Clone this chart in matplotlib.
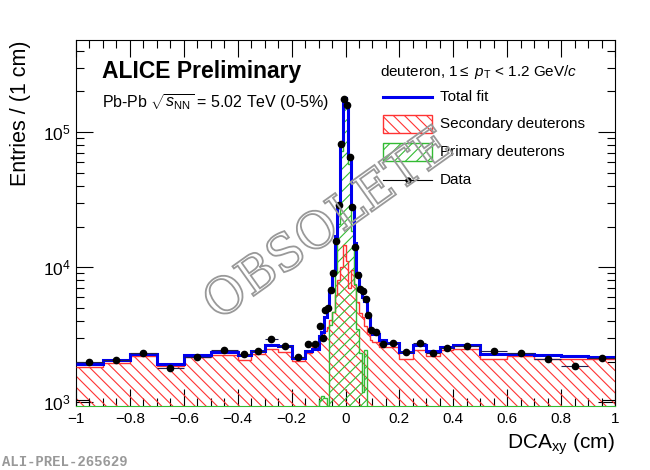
import numpy as np
import matplotlib
matplotlib.use('Agg')
import matplotlib.pyplot as plt
from matplotlib.patches import Rectangle, PathPatch
from matplotlib.lines import Line2D
from matplotlib.textpath import TextPath
from matplotlib.font_manager import FontProperties
from matplotlib.transforms import Affine2D, IdentityTransform
from matplotlib.ticker import MultipleLocator, FuncFormatter, LogLocator

plt.rcParams['font.family'] = ['Liberation Sans', 'DejaVu Sans']
plt.rcParams['mathtext.fontset'] = 'custom'
plt.rcParams['mathtext.rm'] = 'Liberation Sans'
plt.rcParams['mathtext.it'] = 'Liberation Sans:italic'
plt.rcParams['mathtext.bf'] = 'Liberation Sans:bold'
plt.rcParams['hatch.linewidth'] = 0.8

# DCA_xy bin edges (cm), variable binning
edges = [-1.0, -0.9, -0.8, -0.7, -0.6, -0.5, -0.4, -0.35, -0.3, -0.25, -0.2, -0.15,
         -0.125, -0.1, -0.09, -0.08, -0.07, -0.06, -0.05, -0.04, -0.03, -0.02, -0.01,
         0.0, 0.01, 0.02, 0.03, 0.04, 0.05, 0.06, 0.07, 0.08, 0.09, 0.1, 0.125, 0.15,
         0.2, 0.25, 0.3, 0.35, 0.4, 0.5, 0.6, 0.7, 0.8, 0.9, 1.0]

data_counts = [1980, 2070, 2330, 1800, 2170, 2430, 2270, 2390, 2930, 2630, 2155,
               2720, 2720, 3660, 2990, 4800, 5000, 6750, 9130, 15700, 28800, 81000, 175000,
               159000, 65000, 27800, 14000, 8700, 6900, 6640, 5790, 4460, 3410,
               3320, 2720, 2750, 2360, 2770, 2330, 2540, 2610, 2400, 2300, 2110, 1860, 2130]
data_err = [90, 90, 100, 90, 100, 110, 110, 110, 130, 120, 110,
            130, 140, 180, 160, 220, 230, 280, 350, 500, 800, 1500, 2500,
            2400, 1400, 800, 500, 350, 300, 280, 260, 220, 180,
            170, 130, 130, 110, 130, 110, 120, 110, 110, 100, 100, 90, 100]

total_fit = [1935, 2046, 2294, 1935, 2255, 2357, 2255, 2390, 2645, 2600, 2140,
             2390, 2500, 3100, 3300, 4300, 5000, 6700, 9000, 17000, 29000, 82000, 178000,
             160000, 64000, 28000, 15000, 9000, 6900, 6000, 5600, 4300, 3500,
             3190, 2880, 2750, 2357, 2645, 2390, 2590, 2640, 2294, 2294, 2255, 2200, 2150]

secondary = [1825, 1968, 2200, 1850, 2160, 2255, 2046, 2290, 2497, 2357, 2020,
             2300, 2640, 2900, 3130, 3400, 3610, 4050, 4660, 6200, 8000, 10000, 14500,
             11200, 7000, 9500, 7400, 5500, 4600, 4300, 3700, 3200, 2900,
             2800, 2570, 2570, 2105, 2460, 2200, 2460, 2500, 2105, 2200, 2105, 2105, 2105]

primary = [0, 0, 0, 0, 0, 0, 0, 0, 0, 0, 0,
           0, 0, 1040, 1120, 1080, 0, 3720, 4660, 9000, 21000, 72000, 165000,
           150000, 58000, 18500, 7500, 3500, 2300, 1190, 2430, 0, 0,
           0, 0, 0, 0, 0, 0, 0, 0, 0, 0, 0, 0, 0]

edge_hist_edges = [-1.0, -0.95, 0.95, 1.0]
edge_hist_vals = [1035, 0, 1035]

edges_a = np.array(edges)
centers = 0.5 * (edges_a[1:] + edges_a[:-1])
half_w = 0.5 * (edges_a[1:] - edges_a[:-1])

red = '#ff3333'
green = '#33bb33'
blue = '#0000ee'

fig = plt.figure(figsize=(6.5, 4.7), dpi=100)
ax = fig.add_axes([76 / 650, 64 / 470, 539 / 650, 366 / 470])
ax.set_yscale('log')
ymin, ymax = 940, 4.8e5

ax.stairs(secondary, edges, fill=True, baseline=1, facecolor='none', edgecolor=red,
          hatch='\\\\\\', linewidth=0, zorder=2)
ax.stairs(secondary, edges, baseline=None, color=red, linewidth=1.0, zorder=3)
ax.stairs(primary, edges, fill=True, baseline=1, facecolor='none', edgecolor=green,
          hatch='///', linewidth=0, zorder=2)
ax.stairs(primary, edges, baseline=1, color=green, linewidth=1.0, zorder=3)
ax.stairs(edge_hist_vals, edge_hist_edges, baseline=1, color='black', linewidth=0.8, zorder=3)
ax.stairs(total_fit, edges, baseline=None, color=blue, linewidth=2.2, zorder=4)
ax.errorbar(centers, data_counts, xerr=half_w, yerr=data_err, fmt='o', ms=4.5,
            color='black', ecolor='#202050', elinewidth=0.8, capsize=0, zorder=5)

ax.set_xlim(-1, 1)
ax.set_ylim(ymin, ymax)

ax.xaxis.set_major_locator(MultipleLocator(0.2))
ax.xaxis.set_minor_locator(MultipleLocator(0.05))
ax.xaxis.set_major_formatter(FuncFormatter(lambda v, p: ('%g' % round(v, 2)).replace('-', '\u2212')))
ax.yaxis.set_major_locator(LogLocator(base=10))
ax.yaxis.set_minor_locator(LogLocator(base=10, subs=np.arange(2, 10)))
ax.tick_params(which='both', direction='in', top=True, right=True, labelsize=11, width=0.8)
ax.tick_params(axis='y', labelsize=12.5)
ax.tick_params(which='major', length=12)
ax.tick_params(which='minor', length=6, labelleft=False)
ax.tick_params(axis='x', pad=4)
ax.spines['bottom'].set_color(green)
for s in ax.spines.values():
    s.set_linewidth(0.8)

ax.set_xlabel(r'DCA$_{\rm xy}$ (cm)', fontsize=15, loc='right', labelpad=4)
ax.set_ylabel('Entries / (1 cm)', fontsize=15.5, loc='top', labelpad=9)

ax.text(0.048, 0.913, 'ALICE Preliminary', transform=ax.transAxes, fontsize=16.5,
        fontweight='bold', va='center', ha='left')
ax.text(0.048, 0.828, r'Pb-Pb $\sqrt{s_{\rm NN}}$ = 5.02 TeV (0-5%)', transform=ax.transAxes,
        fontsize=11.5, va='center', ha='left')

# legend, drawn by hand
ax.text(0.564, 0.913, r'deuteron, 1$\leq$ $p_{\rm T}$ < 1.2 GeV/$c$', transform=ax.transAxes,
        fontsize=11, va='center', ha='left')
hx0, hx1 = 0.5696, 0.6605
tx = 0.6753
ax.add_line(Line2D([hx0, hx1], [0.8443, 0.8443], transform=ax.transAxes, color=blue, lw=2.2))
ax.add_patch(Rectangle((hx0, 0.746), hx1 - hx0, 0.049, transform=ax.transAxes,
                       facecolor='none', edgecolor=red, hatch='\\\\\\', lw=1.0))
ax.add_patch(Rectangle((hx0, 0.669), hx1 - hx0, 0.049, transform=ax.transAxes,
                       facecolor='none', edgecolor=green, hatch='///', lw=1.0))
ax.add_line(Line2D([hx0, hx1], [0.6175, 0.6175], transform=ax.transAxes, color='black', lw=0.8))
ax.add_line(Line2D([(hx0 + hx1) / 2], [0.6175], transform=ax.transAxes, color='black',
                   marker='o', ms=3.5, lw=0))
for yy, lab in zip([0.8443, 0.7705, 0.694, 0.6175],
                   ['Total fit', 'Secondary deuterons', 'Primary deuterons', 'Data']):
    ax.text(tx, yy, lab, transform=ax.transAxes, fontsize=11, va='center', ha='left')

# OBSOLETE watermark, hollow letters
tp = TextPath((0, 0), 'OBSOLETE', size=50, prop=FontProperties(family='DejaVu Serif'))
bb = tp.get_extents()
tr = Affine2D().translate(-(bb.x0 + bb.x1) / 2, -(bb.y0 + bb.y1) / 2).rotate_deg(35.5).translate(326, 470 - 222)
fig.add_artist(PathPatch(tr.transform_path(tp), facecolor='none', edgecolor='#999999',
                         lw=1.3, transform=IdentityTransform(), zorder=1))

fig.text(2 / 650, 1 - 462 / 470, 'ALI-PREL-265629', fontsize=10, color='#999999',
         family='Liberation Mono', fontweight='bold', va='center', ha='left')

fig.savefig('out.png', dpi=100)
